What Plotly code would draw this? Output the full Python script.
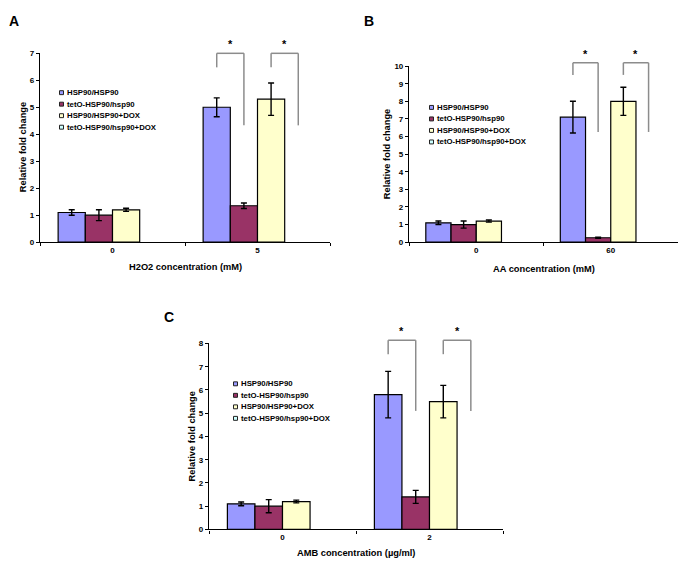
import plotly.graph_objects as go

# ---------------- data ----------------
series = ["HSP90/HSP90", "tetO-HSP90/hsp90", "HSP90/HSP90+DOX", "tetO-HSP90/hsp90+DOX"]
colors = ["#9999FF", "#993366", "#FFFFCC", "#CCFFFF"]

a_cats = ["0", "5"]
a_vals = [[1.1, 5.0], [1.0, 1.35], [1.2, 5.3], [None, None]]
a_errs = [[0.1, 0.35], [0.2, 0.1], [0.06, 0.6], [None, None]]

b_cats = ["0", "60"]
b_vals = [[1.1, 7.1], [1.0, 0.25], [1.2, 8.0], [None, None]]
b_errs = [[0.1, 0.9], [0.2, 0.03], [0.06, 0.8], [None, None]]

c_cats = ["0", "2"]
c_vals = [[1.1, 5.8], [1.0, 1.4], [1.2, 5.5], [None, None]]
c_errs = [[0.08, 1.0], [0.28, 0.28], [0.06, 0.7], [None, None]]

# significance brackets: (category index, from series, to series, top, left leg end, right leg end)
a_sig = [(1, 0, 1, 7.0, 6.48, 4.33), (1, 2, 3, 7.0, 6.48, 4.33)]
b_sig = [(1, 0, 1, 10.19, 9.5, 6.26), (1, 2, 3, 10.19, 9.5, 6.26)]
c_sig = [(1, 0, 1, 8.14, 7.54, 5.1), (1, 2, 3, 8.14, 7.54, 5.1)]

# page is rendered inside an 8px body margin
OFF = 8
W, H = 686 - 2 * OFF, 567 - 2 * OFF
FONT = "Liberation Sans, Arial, sans-serif"
BARGAP = 0.25


def px(x):
    return min(max((x - OFF) / W, 0), 1)


def py(y):
    return min(max(1 - (y - OFF) / H, 0), 1)


panels = [
    dict(letter="A", cats=a_cats, vals=a_vals, errs=a_errs, sig=a_sig, ymax=7, dtick=1,
         xtitle="H2O2 concentration (mM)", box=(40, 330, 50, 242), leg=(61.5, 90),
         letter_pos=(3, 17), ytitle_x=22.5, xtitle_y=267),
    dict(letter="B", cats=b_cats, vals=b_vals, errs=b_errs, sig=b_sig, ymax=10, dtick=1,
         xtitle="AA concentration (mM)", box=(409, 678, 63, 242), leg=(431.5, 105),
         letter_pos=(363, 17), ytitle_x=387, xtitle_y=269),
    dict(letter="C", cats=c_cats, vals=c_vals, errs=c_errs, sig=c_sig, ymax=8, dtick=1,
         xtitle="AMB concentration (µg/ml)", box=(209, 503, 345, 534), leg=(235.5, 386),
         letter_pos=(163, 318), ytitle_x=192, xtitle_y=558),
]
LEG_STEP = 11.7

fig = go.Figure()
shapes = []
annotations = []
layout = dict(
    width=W, height=H, margin=dict(l=0, r=0, t=0, b=0),
    paper_bgcolor="white", plot_bgcolor="white",
    barmode="group", bargap=BARGAP, bargroupgap=0,
    font=dict(family=FONT, size=8, color="black", weight="bold"),
    showlegend=False,
)

nser = len(series)
bw = (1 - BARGAP) / nser

for pi, p in enumerate(panels):
    sfx = "" if pi == 0 else str(pi + 1)
    xa, ya = "x" + sfx, "y" + sfx
    x0, x1, y0, y1 = p["box"]
    for si in range(nser):
        fig.add_trace(go.Bar(
            x=p["cats"], y=p["vals"][si], name=series[si],
            marker=dict(color=colors[si], line=dict(color="black", width=1.2)),
            error_y=dict(type="data", array=p["errs"][si], color="black", thickness=1.4, width=3),
            xaxis=xa, yaxis=ya, showlegend=False,
        ))
    layout["xaxis" + sfx] = dict(
        domain=[px(x0), px(x1)], anchor=ya, type="category", range=[-0.5, len(p["cats"]) - 0.5],
        showline=True, linecolor="black", linewidth=1.2, ticks="outside", tickson="boundaries",
        ticklen=3, tickcolor="black", tickfont=dict(size=8), showgrid=False, zeroline=False,
        fixedrange=True,
    )
    layout["yaxis" + sfx] = dict(
        domain=[py(y1), py(y0)], anchor=xa, range=[0, p["ymax"]], dtick=p["dtick"],
        showline=True, linecolor="black", linewidth=1.2, ticks="outside", ticklen=3,
        tickcolor="black", tickfont=dict(size=8), showgrid=False, zeroline=False,
    )
    ymax = p["ymax"]
    # significance brackets
    for (ci, sa, sb, top, lb, rb) in p["sig"]:
        xa_c = ci + (sa - (nser - 1) / 2) * bw
        xb_c = ci + (sb - (nser - 1) / 2) * bw
        yd = ya + " domain"
        line = dict(color="#8c8c8c", width=1.5)
        shapes.append(dict(type="line", xref=xa, yref=yd, x0=xa_c, x1=xa_c, y0=lb / ymax, y1=top / ymax, line=line))
        shapes.append(dict(type="line", xref=xa, yref=yd, x0=xa_c, x1=xb_c, y0=top / ymax, y1=top / ymax, line=line))
        shapes.append(dict(type="line", xref=xa, yref=yd, x0=xb_c, x1=xb_c, y0=top / ymax, y1=rb / ymax, line=line))
        annotations.append(dict(text="*", xref=xa, yref=yd, x=(xa_c + xb_c) / 2, y=top / ymax,
                                yanchor="bottom", showarrow=False, font=dict(size=11, weight="bold"), yshift=1))
    # legend (drawn as small boxes + text)
    lx, ly = p["leg"]
    for si in range(nser):
        cy = ly + si * LEG_STEP
        shapes.append(dict(type="rect", xref="paper", yref="paper",
                           x0=px(lx - 2), x1=px(lx + 2), y0=py(cy + 2), y1=py(cy - 2),
                           fillcolor=colors[si], line=dict(color="#222222", width=1)))
        annotations.append(dict(text=series[si], xref="paper", yref="paper",
                                x=px(lx + 3), y=py(cy), xanchor="left", yanchor="middle",
                                showarrow=False, font=dict(size=7.8, weight="bold")))
    # texts
    annotations.append(dict(text=p["letter"], xref="paper", yref="paper",
                            x=px(p["letter_pos"][0]), y=py(p["letter_pos"][1]),
                            xanchor="left", yanchor="middle", showarrow=False, borderpad=0,
                            font=dict(size=14, weight="bold")))
    annotations.append(dict(text="Relative fold change", xref="paper", yref="paper",
                            x=px(p["ytitle_x"]), y=py((y0 + y1) / 2), textangle=-90,
                            xanchor="center", yanchor="middle", showarrow=False,
                            font=dict(size=9.3, weight="bold")))
    annotations.append(dict(text=p["xtitle"], xref="paper", yref="paper",
                            x=px((x0 + x1) / 2), y=py(p["xtitle_y"]),
                            xanchor="center", yanchor="middle", showarrow=False,
                            font=dict(size=9.3, weight="bold")))

layout["shapes"] = shapes
layout["annotations"] = annotations
fig.update_layout(**layout)
fig.write_html("out.html")
